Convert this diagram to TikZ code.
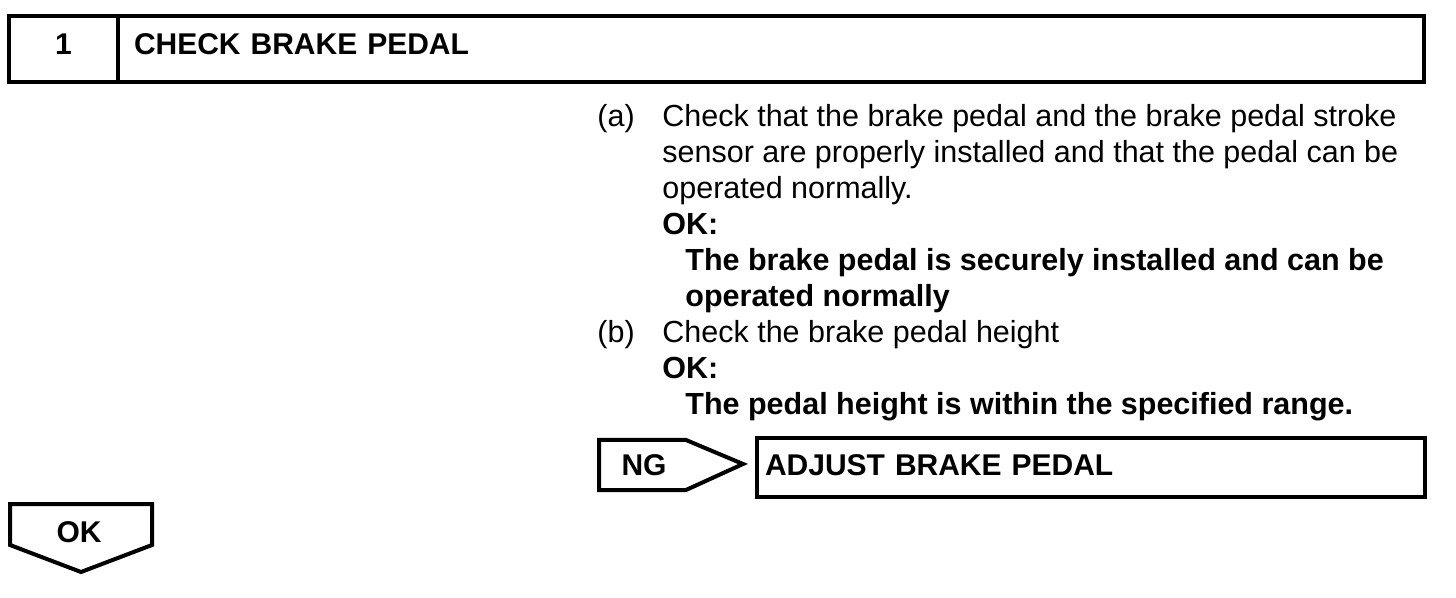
\documentclass[tikz,border=0pt]{standalone}
\usepackage{fontspec}
\setmainfont{Liberation Sans}
\usetikzlibrary{positioning}
\tikzset{%
    box/.style={%
        rectangle, draw=black, line width=2pt, outer sep=0pt, font=\fontsize{15}{18}\selectfont\bfseries, text height=11pt, text depth=5pt
    },
    tag/.style={%
        draw=black, line width=2pt, line join=miter
    },
    tagtext/.style={%
        font=\fontsize{15}{18}\selectfont\bfseries, inner sep=0pt, anchor=base
    },
    txt/.style={%
        font=\fontsize{15.25}{18}\selectfont, inner sep=0pt, anchor=base west
    },
    spec/.style={%
        txt, font=\fontsize{15.25}{18}\selectfont\bfseries
    },
}
\begin{document}
\begin{tikzpicture}[x=0.5pt,y=-0.5pt]
    \useasboundingbox (0,0) rectangle (1456,598);

    % step header
    \node[box, minimum width=54.5pt, minimum height=33pt, inner sep=0pt] (stepno) at (63.5,49) {1};
    \node[box, anchor=west, minimum height=33pt, text width=637pt, inner xsep=8pt, align=left] (title) at (stepno.east) {CHECK BRAKE PEDAL};

    % procedure
    \node[txt] (a) at (597,127) {(a)};
    \node[txt] (a1) at (662,127) {Check that the brake pedal and the brake pedal stroke};
    \node[txt] (a2) at (662,163) {sensor are properly installed and that the pedal can be};
    \node[txt] (a3) at (662,199) {operated normally.};
    \node[spec] (aok) at (662,235) {OK:};
    \node[spec] (as1) at (685,271) {The brake pedal is securely installed and can be};
    \node[spec] (as2) at (685,307) {operated normally};
    \node[txt] (b) at (597,343) {(b)};
    \node[txt] (b1) at (662,343) {Check the brake pedal height};
    \node[spec] (bok) at (662,379) {OK:};
    \node[spec] (bs1) at (685,415) {The pedal height is within the specified range.};

    % NG branch
    \draw[tag] (599,440) -- (686,440) -- (743,464) -- (686,490) -- (599,490) -- cycle;
    \node[tagtext] (ng) at (644,475) {NG};
    \node[box, minimum width=334pt, minimum height=29.5pt, text width=326pt, inner xsep=4pt, align=left, text depth=3.5pt] (adjust) at (1091,467.5) {ADJUST BRAKE PEDAL};

    % OK branch
    \draw[tag] (10,504) -- (152,504) -- (152,545) -- (81,572) -- (10,545) -- cycle;
    \node[tagtext] (ok) at (79,542) {OK};
\end{tikzpicture}
\end{document}
